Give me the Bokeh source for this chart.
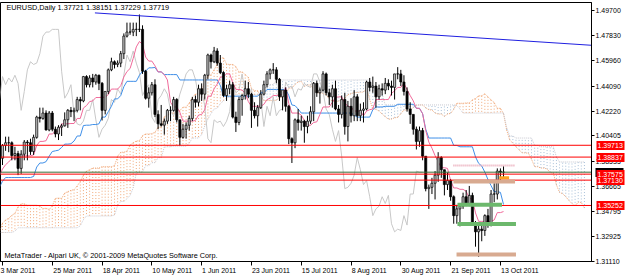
import numpy as np
from bokeh.plotting import figure
from bokeh.models import FixedTicker, Label, Range1d, NumeralTickFormatter, LinearAxis
from bokeh.embed import file_html
from bokeh.resources import INLINE

# ---------------- data ----------------
# pre-window bars (15 Nov 2010 .. 2 Mar 2011), only needed for Ichimoku look-back
pre_highs = [1.3700, 1.3640, 1.3600, 1.3680, 1.3700, 1.3790, 1.3620, 1.3440, 1.3370, 1.3340, 1.3310, 1.3130,
             1.3150, 1.3260, 1.3420, 1.3420, 1.3400, 1.3270, 1.3290, 1.3290, 1.3410, 1.3440, 1.3390, 1.3290,
             1.3290, 1.3220, 1.3210, 1.3180, 1.3120, 1.3120, 1.3160, 1.3190, 1.3220, 1.3330, 1.3400,
             1.3420, 1.3390, 1.3320, 1.3160, 1.3020, 1.2970, 1.3000, 1.3100, 1.3370, 1.3440, 1.3370, 1.3460,
             1.3480, 1.3510, 1.3640, 1.3650, 1.3690, 1.3720, 1.3760, 1.3780, 1.3710,
             1.3810, 1.3860, 1.3830, 1.3690, 1.3640, 1.3680, 1.3740, 1.3710, 1.3620, 1.3560, 1.3530, 1.3580,
             1.3640, 1.3710, 1.3710, 1.3720, 1.3790, 1.3830, 1.3820, 1.3810, 1.3860, 1.3890]
pre_lows = [1.3600, 1.3450, 1.3480, 1.3500, 1.3600, 1.3590, 1.3350, 1.3300, 1.3300, 1.3220, 1.3080, 1.2970,
            1.2990, 1.3100, 1.3220, 1.3250, 1.3230, 1.3180, 1.3180, 1.3200, 1.3220, 1.3350, 1.3220, 1.3200,
            1.3170, 1.3130, 1.3120, 1.3070, 1.3050, 1.3080, 1.3080, 1.3090, 1.3100, 1.3140, 1.3290,
            1.3280, 1.3280, 1.3120, 1.2990, 1.2900, 1.2860, 1.2900, 1.2950, 1.3060, 1.3280, 1.3290, 1.3300,
            1.3400, 1.3390, 1.3480, 1.3570, 1.3590, 1.3640, 1.3660, 1.3590, 1.3590,
            1.3680, 1.3780, 1.3640, 1.3570, 1.3530, 1.3580, 1.3630, 1.3570, 1.3500, 1.3430, 1.3430, 1.3450,
            1.3530, 1.3600, 1.3610, 1.3620, 1.3660, 1.3740, 1.3730, 1.3710, 1.3750, 1.3770]

# visible daily bars, 3 Mar 2011 .. 14 Oct 2011
opens = [1.3875, 1.3970, 1.3990, 1.3990, 1.3895, 1.3910, 1.3800, 1.3905, 1.3995, 1.3990, 1.3925, 1.4030,
         1.4180, 1.4170, 1.4210, 1.4085, 1.4210, 1.4090, 1.4055, 1.4105, 1.4115, 1.4160, 1.4230, 1.4220,
         1.4230, 1.4310, 1.4300, 1.4480, 1.4420, 1.4470, 1.4440, 1.4490, 1.4430, 1.4230, 1.4370, 1.4530,
         1.4590, 1.4570, 1.4580, 1.4650, 1.4780, 1.4810, 1.4810, 1.4830, 1.4830, 1.4830, 1.4520, 1.4320,
         1.4360, 1.4420, 1.4200, 1.4130, 1.4120, 1.4150, 1.4230, 1.4230, 1.4310, 1.4160, 1.4030, 1.4090,
         1.4120, 1.4170, 1.4310, 1.4290, 1.4390, 1.4350, 1.4490, 1.4640, 1.4590, 1.4670, 1.4580, 1.4510,
         1.4340, 1.4390, 1.4420, 1.4180, 1.4140, 1.4310, 1.4340, 1.4390, 1.4350, 1.4230, 1.4190, 1.4250,
         1.4350, 1.4420, 1.4500, 1.4530, 1.4530, 1.4460, 1.4330, 1.4380, 1.4260, 1.4020, 1.3990, 1.4160,
         1.4140, 1.4150, 1.4110, 1.4150, 1.4220, 1.4430, 1.4360, 1.4380, 1.4500, 1.4360, 1.4330, 1.4390,
         1.4240, 1.4200, 1.4310, 1.4110, 1.4260, 1.4190, 1.4330, 1.4190, 1.4230, 1.4240, 1.4440, 1.4400,
         1.4410, 1.4330, 1.4390, 1.4380, 1.4430, 1.4410, 1.4400, 1.4500, 1.4500, 1.4440, 1.4370, 1.4240,
         1.4200, 1.4090, 1.4000, 1.4080, 1.3890, 1.3650, 1.3660, 1.3690, 1.3750, 1.3880, 1.3790, 1.3680,
         1.3710, 1.3590, 1.3450, 1.3500, 1.3520, 1.3590, 1.3540, 1.3600, 1.3390, 1.3330, 1.3350, 1.3340,
         1.3450, 1.3380, 1.3610, 1.3610, 1.3780, 1.37721]
highs = [1.3980, 1.4035, 1.4035, 1.4000, 1.3960, 1.3930, 1.3935, 1.4010, 1.4010, 1.4020, 1.4050, 1.4190,
         1.4250, 1.4250, 1.4230, 1.4225, 1.4225, 1.4110, 1.4120, 1.4130, 1.4215, 1.4240, 1.4255, 1.4250,
         1.4330, 1.4330, 1.4485, 1.4490, 1.4490, 1.4500, 1.4500, 1.4495, 1.4440, 1.4370, 1.4540, 1.4620,
         1.4600, 1.4600, 1.4670, 1.4800, 1.4880, 1.4880, 1.4880, 1.4880, 1.4940, 1.4860, 1.4530, 1.4400,
         1.4440, 1.4460, 1.4230, 1.4270, 1.4170, 1.4240, 1.4260, 1.4330, 1.4320, 1.4160, 1.4130, 1.4140,
         1.4190, 1.4330, 1.4340, 1.4420, 1.4430, 1.4500, 1.4650, 1.4650, 1.4700, 1.4690, 1.4640, 1.4520,
         1.4420, 1.4450, 1.4440, 1.4220, 1.4330, 1.4350, 1.4450, 1.4440, 1.4360, 1.4290, 1.4270, 1.4380,
         1.4450, 1.4520, 1.4540, 1.4580, 1.4550, 1.4470, 1.4370, 1.4400, 1.4270, 1.4030, 1.4170, 1.4240,
         1.4190, 1.4160, 1.4190, 1.4260, 1.4440, 1.4450, 1.4400, 1.4520, 1.4510, 1.4390, 1.4420, 1.4450,
         1.4270, 1.4340, 1.4360, 1.4300, 1.4320, 1.4380, 1.4350, 1.4280, 1.4290, 1.4450, 1.4470, 1.4480,
         1.4440, 1.4420, 1.4430, 1.4470, 1.4460, 1.4450, 1.4500, 1.4550, 1.4530, 1.4490, 1.4400, 1.4290,
         1.4200, 1.4110, 1.4110, 1.4100, 1.3890, 1.3680, 1.3730, 1.3780, 1.3920, 1.3890, 1.3790, 1.3770,
         1.3720, 1.3600, 1.3530, 1.3540, 1.3620, 1.3640, 1.3670, 1.3620, 1.3410, 1.3380, 1.3380, 1.3460,
         1.3500, 1.3640, 1.3690, 1.3800, 1.3800, 1.38151]
lows = [1.3825, 1.3930, 1.3920, 1.3860, 1.3860, 1.3750, 1.3760, 1.3860, 1.3860, 1.3900, 1.3900, 1.4020,
        1.4140, 1.4160, 1.4080, 1.4075, 1.4075, 1.4030, 1.4010, 1.4040, 1.4110, 1.4100, 1.4180, 1.4150,
        1.4215, 1.4230, 1.4290, 1.4400, 1.4400, 1.4400, 1.4420, 1.4380, 1.4155, 1.4200, 1.4350, 1.4520,
        1.4540, 1.4550, 1.4550, 1.4610, 1.4770, 1.4790, 1.4780, 1.4780, 1.4810, 1.4500, 1.4310, 1.4250,
        1.4340, 1.4180, 1.4090, 1.4110, 1.4050, 1.4130, 1.4150, 1.4220, 1.4140, 1.3970, 1.4020, 1.4020,
        1.4080, 1.4150, 1.4250, 1.4260, 1.4300, 1.4310, 1.4460, 1.4540, 1.4580, 1.4560, 1.4500, 1.4330,
        1.4300, 1.4350, 1.4170, 1.4070, 1.4120, 1.4190, 1.4310, 1.4320, 1.4100, 1.4170, 1.4110, 1.4240,
        1.4340, 1.4400, 1.4460, 1.4500, 1.4430, 1.4300, 1.4230, 1.4220, 1.3980, 1.3840, 1.3950, 1.4080,
        1.4080, 1.3990, 1.4060, 1.4130, 1.4150, 1.4330, 1.4280, 1.4370, 1.4340, 1.4270, 1.4250, 1.4230,
        1.4140, 1.4170, 1.4050, 1.4000, 1.4140, 1.4150, 1.4150, 1.4150, 1.4140, 1.4230, 1.4370, 1.4360,
        1.4250, 1.4310, 1.4340, 1.4350, 1.4380, 1.4340, 1.4310, 1.4460, 1.4410, 1.4340, 1.4220, 1.4130,
        1.4050, 1.3940, 1.3960, 1.3860, 1.3630, 1.3500, 1.3610, 1.3570, 1.3700, 1.3730, 1.3600, 1.3640,
        1.3560, 1.3390, 1.3390, 1.3370, 1.3500, 1.3520, 1.3520, 1.3380, 1.3220, 1.3145, 1.3260, 1.3300,
        1.3360, 1.3370, 1.3550, 1.3570, 1.3700, 1.37229]
closes = [1.3970, 1.3990, 1.3990, 1.3895, 1.3910, 1.3800, 1.3905, 1.3995, 1.3990, 1.3925, 1.4030, 1.4180,
          1.4170, 1.4210, 1.4085, 1.4210, 1.4090, 1.4055, 1.4105, 1.4115, 1.4160, 1.4230, 1.4220, 1.4230,
          1.4310, 1.4300, 1.4480, 1.4420, 1.4470, 1.4440, 1.4490, 1.4430, 1.4230, 1.4370, 1.4530, 1.4590,
          1.4570, 1.4580, 1.4650, 1.4780, 1.4810, 1.4810, 1.4830, 1.4830, 1.4830, 1.4520, 1.4320, 1.4360,
          1.4420, 1.4200, 1.4130, 1.4120, 1.4150, 1.4230, 1.4230, 1.4310, 1.4160, 1.4030, 1.4090, 1.4120,
          1.4170, 1.4310, 1.4290, 1.4390, 1.4350, 1.4490, 1.4640, 1.4590, 1.4670, 1.4580, 1.4510, 1.4340,
          1.4390, 1.4420, 1.4180, 1.4140, 1.4310, 1.4340, 1.4390, 1.4350, 1.4230, 1.4190, 1.4250, 1.4350,
          1.4420, 1.4500, 1.4530, 1.4530, 1.4460, 1.4330, 1.4380, 1.4260, 1.4020, 1.3990, 1.4160, 1.4140,
          1.4150, 1.4110, 1.4150, 1.4220, 1.4430, 1.4360, 1.4380, 1.4500, 1.4360, 1.4330, 1.4390, 1.4240,
          1.4200, 1.4310, 1.4110, 1.4260, 1.4190, 1.4330, 1.4190, 1.4230, 1.4240, 1.4440, 1.4400, 1.4410,
          1.4330, 1.4390, 1.4380, 1.4430, 1.4410, 1.4400, 1.4500, 1.4500, 1.4440, 1.4370, 1.4240, 1.4200,
          1.4090, 1.4000, 1.4080, 1.3890, 1.3650, 1.3660, 1.3690, 1.3750, 1.3880, 1.3790, 1.3680, 1.3710,
          1.3590, 1.3450, 1.3500, 1.3520, 1.3590, 1.3540, 1.3600, 1.3390, 1.3330, 1.3350, 1.3340, 1.3450,
          1.3380, 1.3610, 1.3610, 1.3780, 1.3772, 1.37719]

# time axis
date_tick_index = [0, 16, 32, 48, 64, 80, 96, 112, 128, 144, 160]
date_tick_labels = ["3 Mar 2011", "25 Mar 2011", "18 Apr 2011", "10 May 2011", "1 Jun 2011", "23 Jun 2011",
                    "15 Jul 2011", "8 Aug 2011", "30 Aug 2011", "21 Sep 2011", "13 Oct 2011"]
price_ticks = [1.49700, 1.47830, 1.45960, 1.44090, 1.42220, 1.40405, 1.38535, 1.36665, 1.34795, 1.32925, 1.31110]

# chart objects
red_levels = [1.39713, 1.38837, 1.37575, 1.37130, 1.35252]
bid_level = 1.37719
trend_index = [29.7, 189.3]
trend_price = [1.4952, 1.4712]
zone_price = [1.38209, 1.37030, 1.35309, 1.33885, 1.31619, 1.37302]
zone_start = [144.9, 144.9, 146.2, 146.2, 145.9, 159.6]
zone_end = [164.7, 164.7, 160.5, 165.0, 165.0, 162.8]

header_text = "EURUSD,Daily  1.37721 1.38151 1.37229 1.37719"
footer_text = "MetaTrader - Alpari UK, \u00a9 2001-2009 MetaQuotes Software Corp."

# ---------------- view ----------------
X0, X1 = -0.638, 189.27
YB, YT = 1.31102, 1.50290
FW, FH = 595, 260
FONT = "Liberation Sans"


def sx(px):
    return X0 + px * (X1 - X0) / FW


def sy(py):
    return YT - (py - 2) * (YT - YB) / FH


# approximate Arial/Liberation advance widths (em) used to left-align date labels
_W = {" ": 0.278, "M": 0.833, "A": 0.667, "J": 0.5, "S": 0.667, "O": 0.778, "a": 0.556, "r": 0.333,
      "p": 0.556, "y": 0.5, "u": 0.556, "n": 0.556, "l": 0.222, "g": 0.556, "e": 0.556, "c": 0.5, "t": 0.278}


def left_aligned(s, first):
    if first:
        return s
    em = sum(_W.get(ch, 0.556) for ch in s)
    n = int(round((em + 0.15) / 0.278))
    return "\u00a0" * n + s


p = figure(width=625, height=276, x_range=Range1d(X0, X1), y_range=Range1d(YB, YT),
           y_axis_location="right", output_backend="svg", toolbar_location=None,
           min_border_left=0, min_border_right=30, min_border_top=2, min_border_bottom=14,
           background_fill_color="white", border_fill_color="white",
           outline_line_color="black", outline_line_width=1)
p.xgrid.visible = False
p.ygrid.visible = False

p.yaxis.ticker = FixedTicker(ticks=price_ticks)
p.yaxis.formatter = NumeralTickFormatter(format="0.00000")
p.yaxis.major_label_text_font = FONT
p.yaxis.major_label_text_font_size = "7px"
p.yaxis.major_label_text_color = "black"
p.yaxis.major_label_standoff = 1
p.yaxis.major_tick_out = 3
p.yaxis.major_tick_in = 0
p.yaxis.minor_tick_line_color = None
p.yaxis.axis_line_color = "black"

p.xaxis.ticker = FixedTicker(ticks=date_tick_index)
p.xaxis.major_label_overrides = {i: left_aligned(s, i == date_tick_index[0])
                                 for i, s in zip(date_tick_index, date_tick_labels)}
p.xaxis.major_label_text_font = FONT
p.xaxis.major_label_text_font_size = "7px"
p.xaxis.major_label_text_color = "black"
p.xaxis.major_label_standoff = 1
p.xaxis.major_tick_out = 4
p.xaxis.major_tick_in = 0
p.xaxis.minor_tick_line_color = None
p.xaxis.axis_line_color = "black"


# price boxes on the price scale: zero-width extra axes; a thick inward tick forms the box
def price_box_axis(levels, bg):
    ax = LinearAxis(ticker=FixedTicker(ticks=levels), formatter=NumeralTickFormatter(format="0.00000"),
                    axis_line_color=None, major_tick_line_color=bg, major_tick_line_width=9,
                    minor_tick_line_color=None, major_tick_out=0, major_tick_in=28,
                    major_label_standoff=-27, major_label_text_font=FONT,
                    major_label_text_font_size="7px", major_label_text_color="white")
    p.add_layout(ax, "right")


price_box_axis([bid_level], "black")
price_box_axis(red_levels, "#ff0000")

# ---------------- Ichimoku ----------------
H_all = np.array(pre_highs + highs)
L_all = np.array(pre_lows + lows)
npre = len(pre_highs)
n_all = len(H_all)
g_all = np.arange(n_all) - npre


def mid(k, n):
    return (H_all[k - n + 1:k + 1].max() + L_all[k - n + 1:k + 1].min()) / 2


ten = np.full(n_all, np.nan)
kij = np.full(n_all, np.nan)
sb = np.full(n_all, np.nan)
for k in range(n_all):
    if k >= 8:
        ten[k] = mid(k, 9)
    if k >= 25:
        kij[k] = mid(k, 26)
    if k >= 51:
        sb[k] = mid(k, 52)
sa = (ten + kij) / 2

vis = g_all >= -1
span_ok = g_all + 26 >= -1
span_x = (g_all + 26)[span_ok]
span_a = sa[span_ok]
span_b = sb[span_ok]

bull = span_a >= span_b
p.segment(x0=span_x[bull], y0=span_a[bull], x1=span_x[bull], y1=span_b[bull],
          line_color="#f0a878", line_width=1, line_dash="1 2")
p.segment(x0=span_x[~bull], y0=span_a[~bull], x1=span_x[~bull], y1=span_b[~bull],
          line_color="#a8c0d8", line_width=1, line_dash="1 2")
p.line(span_x, span_a, line_color="#f0a878", line_width=1, line_dash="1 1")
p.line(span_x, span_b, line_color="#c8c8d0", line_width=1, line_dash="1 1")

# chikou span
idx = np.arange(len(closes))
p.line(idx - 26, closes, line_color="#c8c8c8", line_width=1)

# kijun / tenkan
p.line(g_all[vis], kij[vis], line_color="#3f8fe8", line_width=1)
p.line(g_all[vis], ten[vis], line_color="#f06a9a", line_width=1)

# ---------------- candles ----------------
o = np.array(opens)
c = np.array(closes)
h = np.array(highs)
l = np.array(lows)
up = c >= o
p.segment(x0=idx, y0=l, x1=idx, y1=h, line_color="black", line_width=1)
p.vbar(x=idx[up], width=0.68, top=c[up], bottom=o[up], fill_color="#bcbcbc",
       line_color="black", line_width=0.7)
p.vbar(x=idx[~up], width=0.68, top=o[~up], bottom=c[~up], fill_color="black",
       line_color="black", line_width=0.7)

# ---------------- objects ----------------
for lv in red_levels:
    p.line([X0, X1], [lv, lv], line_color="#ff0000", line_width=1)
p.line([X0, X1], [bid_level, bid_level], line_color="#3a6e3a", line_width=1)
p.line(trend_index, trend_price, line_color="#2020e0", line_width=1)

zone_colors = ["#e8a0b0", "#d8aa90", "#6cb86c", "#6cb86c", "#d8aa90", "#ffa020"]
zone_widths = [2, 4, 4, 4, 4, 3]
zone_dash = ["1 1", "solid", "solid", "solid", "solid", "solid"]
for pr, a, b, col, w, d in zip(zone_price, zone_start, zone_end, zone_colors, zone_widths, zone_dash):
    p.line([a, b], [pr, pr], line_color=col, line_width=w, line_dash=d)

# ---------------- texts ----------------
p.add_layout(Label(x=sx(6), y=sy(7), text=header_text, text_font=FONT, text_font_size="7.3px",
                   text_color="black", text_baseline="middle"))
p.add_layout(Label(x=sx(4), y=sy(255.5), text=footer_text, text_font=FONT, text_font_size="7.3px",
                   text_color="black", text_baseline="middle"))

open("out.html", "w").write(file_html(p, INLINE))
